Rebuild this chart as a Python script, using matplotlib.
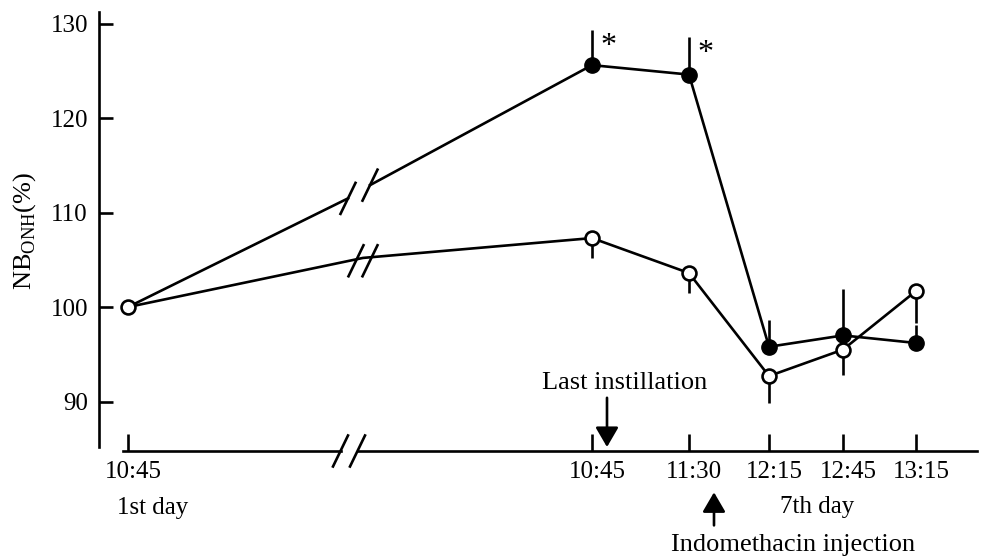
import numpy as np
import matplotlib
matplotlib.use('Agg')
import matplotlib.pyplot as plt
import matplotlib.transforms as mtransforms

plt.rcParams['font.family'] = 'Liberation Serif'
plt.rcParams['mathtext.fontset'] = 'custom'
plt.rcParams['mathtext.rm'] = 'Liberation Serif'

# tempi di misura (1° giorno + 7° giorno), posizioni sull'asse spezzato
times = ['10:45', '10:45', '11:30', '12:15', '12:45', '13:15']
xpos = [0.0, 4.64, 5.61, 6.41, 7.15, 7.88]

# NB_ONH (%) - gruppo pieno (con errore verso l'alto)
filled_mean = [100.0, 125.6, 124.6, 95.8, 97.0, 96.2]
filled_err = [0.0, 3.7, 4.0, 2.8, 4.9, 1.9]
# gruppo vuoto (con errore verso il basso)
open_mean = [100.0, 107.3, 103.6, 92.7, 95.5, 101.7]
open_err = [0.0, 2.1, 2.1, 2.9, 2.7, 3.4]

# punti dove le linee attraversano l'interruzione dell'asse
filled_break_x = [2.20, 2.42]
filled_break_y = [111.5, 112.9]
open_break_x = 2.35
open_break_y = 105.2

signif = [1, 2]  # punti con asterisco

ymin, ymax = 84.77, 131.2
ybot_axis = 85.19
lw = 1.9
fs = 18

fig = plt.figure(figsize=(9.84, 5.56), dpi=100)
ax = fig.add_axes([99/984, 105/556, 878/984, 438.8/556])
ax.set_xlim(-0.29, 8.49)
ax.set_ylim(ymin, ymax)

for s in ['top', 'right', 'bottom']:
    ax.spines[s].set_visible(False)
ax.spines['left'].set_linewidth(lw)
ax.spines['left'].set_bounds(ybot_axis, ymax)

# asse x spezzato disegnato a mano
ax.plot([-0.05, 2.125], [ymin, ymin], color='k', lw=lw, clip_on=False)
ax.plot([2.295, 8.49], [ymin, ymin], color='k', lw=lw, clip_on=False)


def slash(x, y):
    ax.plot([x - 0.075, x + 0.075], [y - 1.64, y + 1.64], color='k', lw=lw, clip_on=False)


slash(2.125, ymin)
slash(2.295, ymin)

ax.set_yticks([90, 100, 110, 120, 130])
ax.tick_params(axis='y', direction='in', length=10, width=lw, pad=8, labelsize=fs)
ax.set_xticks(xpos, times)
ax.tick_params(axis='x', direction='in', length=12, width=lw, pad=7, labelsize=fs)
offset = mtransforms.ScaledTranslation(0.05, 0, fig.dpi_scale_trans)
for lab in ax.get_xticklabels():
    lab.set_transform(lab.get_transform() + offset)

# gruppo pieno
ax.plot([xpos[0], filled_break_x[0]], [filled_mean[0], filled_break_y[0]], color='k', lw=lw)
ax.plot([filled_break_x[1]] + xpos[1:], [filled_break_y[1]] + filled_mean[1:], color='k', lw=lw)
slash(filled_break_x[0], filled_break_y[0])
slash(filled_break_x[1], filled_break_y[1])
ax.errorbar(xpos[1:], filled_mean[1:], yerr=[np.zeros(5), filled_err[1:]], fmt='none',
            ecolor='k', elinewidth=lw, capsize=0, zorder=2)
ax.plot(xpos[1:], filled_mean[1:], 'o', color='k', ms=11, zorder=3)

# gruppo vuoto
ax.plot([xpos[0], open_break_x] + xpos[1:], [open_mean[0], open_break_y] + open_mean[1:],
        color='k', lw=lw)
slash(open_break_x - 0.07, open_break_y - 0.3)
slash(open_break_x + 0.07, open_break_y - 0.3)
ax.errorbar(xpos[1:], open_mean[1:], yerr=[open_err[1:], np.zeros(5)], fmt='none',
            ecolor='k', elinewidth=lw, capsize=0, zorder=2)
ax.plot(xpos, open_mean, 'o', mfc='white', mec='k', mew=1.9, ms=10, zorder=4)

# asterischi
for i in signif:
    ax.annotate('*', (xpos[i], filled_mean[i] + filled_err[i]), xytext=(12, -12),
                textcoords='offset points', fontsize=23, ha='center', va='center')

# frecce e testi sotto l'asse
arr = dict(arrowstyle='-|>,head_length=0.6,head_width=0.35', color='k', lw=lw,
           mutation_scale=20, shrinkA=0, shrinkB=0)
ax.annotate('', xy=(4.79, ybot_axis), xytext=(4.79, 90.4), arrowprops=arr, annotation_clip=False)
ax.annotate('', xy=(5.86, 80.4), xytext=(5.86, 76.9), arrowprops=arr, annotation_clip=False)
ax.text(4.97, 92.0, 'Last instillation', fontsize=19, ha='center', va='center')
ax.text(6.65, 74.8, 'Indomethacin injection', fontsize=19, ha='center', va='center', clip_on=False)
ax.text(6.89, 78.8, '7th day', fontsize=fs, ha='center', va='center', clip_on=False)
ax.text(0.25, 78.7, '1st day', fontsize=fs, ha='center', va='center', clip_on=False)

fig.text(25/984, 1 - 231/556, r'NB$_{\mathrm{ONH}}$(%)', fontsize=19, rotation=90,
         ha='center', va='center')

fig.savefig('out.png', dpi=100)
